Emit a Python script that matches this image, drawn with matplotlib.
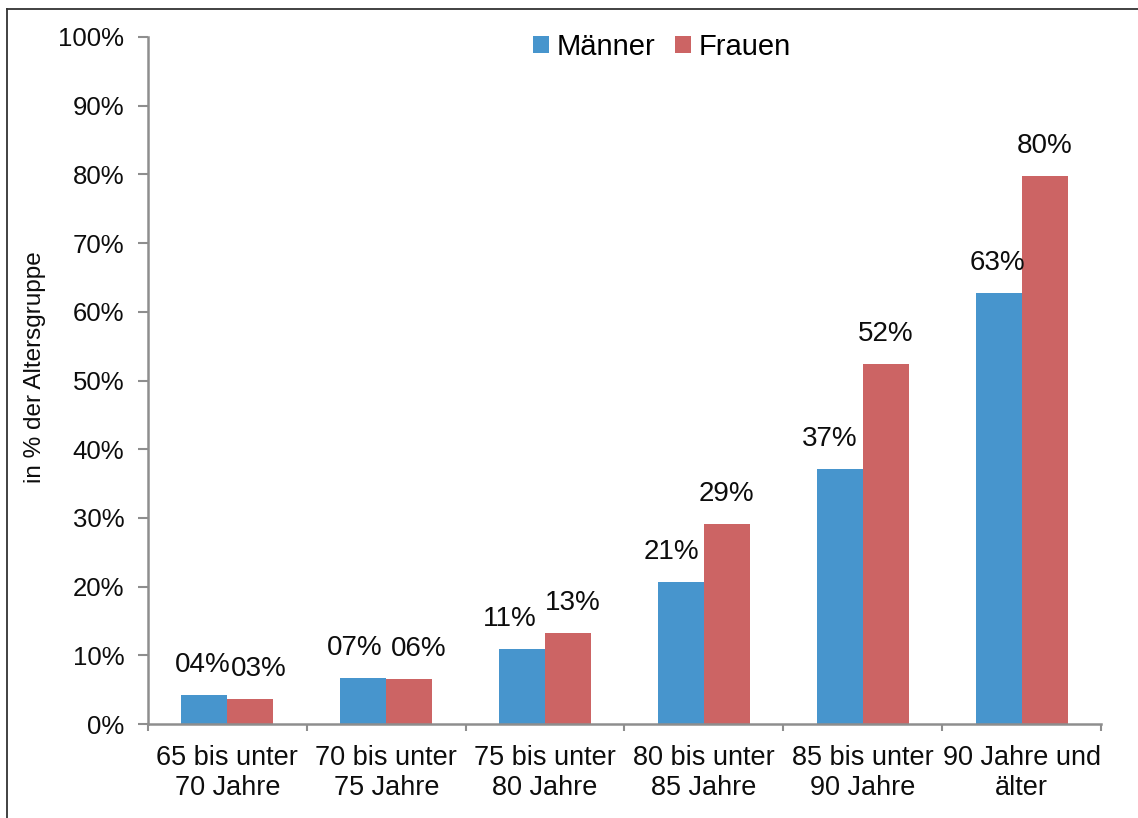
#bar chart: share per age group, Maenner vs Frauen, percent labels on top
import numpy as np
import matplotlib
matplotlib.use("Agg")
import matplotlib.pyplot as plt
from matplotlib.lines import Line2D

#=====================data===============
age_groups = ["65 bis unter\n70 Jahre", "70 bis unter\n75 Jahre", "75 bis unter\n80 Jahre",
              "80 bis unter\n85 Jahre", "85 bis unter\n90 Jahre", "90 Jahre und\nälter"]
maenner = [4.2, 6.7, 10.9, 20.7, 37.1, 62.7]
frauen = [3.6, 6.6, 13.2, 29.1, 52.4, 79.8]
maenner_labels = ["04%", "07%", "11%", "21%", "37%", "63%"]
frauen_labels = ["03%", "06%", "13%", "29%", "52%", "80%"]
series_names = ["Männer", "Frauen"]
yticks = [0, 10, 20, 30, 40, 50, 60, 70, 80, 90, 100]

#=====================style===============
blue = "#4795CD"
red = "#CC6464"
axis_gray = "#8E8E8E"
txt = "#0d0d0d"
# small sideways shifts of the value labels (points), like the original layout
shift_m = [-1, -6.5, -8.5, -7, -7, -1]
shift_f = [6, 6.5, 3, -0.5, 0, 0]

plt.rcParams['font.family'] = ['Liberation Sans', 'DejaVu Sans']

fig = plt.figure(figsize=(11.38, 8.18), dpi=100)
ax = fig.add_axes([148/1138, 1-724/818, (1101-148)/1138, (724-37)/818])

x = np.arange(len(age_groups))
w = 0.29
b1 = ax.bar(x - w/2, maenner, w, color=blue, label=series_names[0], zorder=2)
b2 = ax.bar(x + w/2, frauen, w, color=red, label=series_names[1], zorder=2)

for i in range(len(x)):
    ax.annotate(maenner_labels[i], (x[i] - w/2, maenner[i]), xytext=(shift_m[i], 21.5),
                textcoords="offset points", ha="center", va="center", fontsize=20, color=txt)
    ax.annotate(frauen_labels[i], (x[i] + w/2, frauen[i]), xytext=(shift_f[i], 21.5),
                textcoords="offset points", ha="center", va="center", fontsize=20, color=txt)

ax.set_xlim(-0.5, len(age_groups) - 0.5)
ax.set_ylim(0, 100)
ax.set_yticks(yticks)
ax.set_yticklabels([str(t) + "%" for t in yticks], fontsize=18.5, color=txt)
ax.set_xticks(x)
ax.set_xticklabels(age_groups, fontsize=19.5, color=txt, linespacing=1.22)
ax.set_xticks(np.arange(-0.5, len(age_groups)), minor=True)
ax.tick_params(axis="x", which="major", length=0, pad=15)
ax.tick_params(axis="x", which="minor", length=5, width=1.5, color=axis_gray, direction="out")
ax.tick_params(axis="y", length=7, width=1.5, color=axis_gray, pad=10)

for s in ["top", "right"]:
    ax.spines[s].set_visible(False)
for s in ["left", "bottom"]:
    ax.spines[s].set_color(axis_gray)
    ax.spines[s].set_linewidth(1.8)

ax.set_ylabel("in % der Altersgruppe", fontsize=17.5, color=txt)
ax.yaxis.set_label_coords(-(148-46)/953, 0.52)

fig.legend(handles=[b1, b2], loc="center", bbox_to_anchor=(662/1138, 1-47/818),
           ncol=2, frameon=False, fontsize=21, handlelength=0.55, handleheight=0.55,
           handletextpad=0.25, columnspacing=0.7)

#frame lines on top and left, as in the scanned original
fig.add_artist(Line2D([7/1138, 1], [1-8.5/818, 1-8.5/818], color="#333333", linewidth=1.3))
fig.add_artist(Line2D([7/1138, 7/1138], [0, 1-8.5/818], color="#333333", linewidth=1.3))

plt.savefig("out.png", dpi=100)
